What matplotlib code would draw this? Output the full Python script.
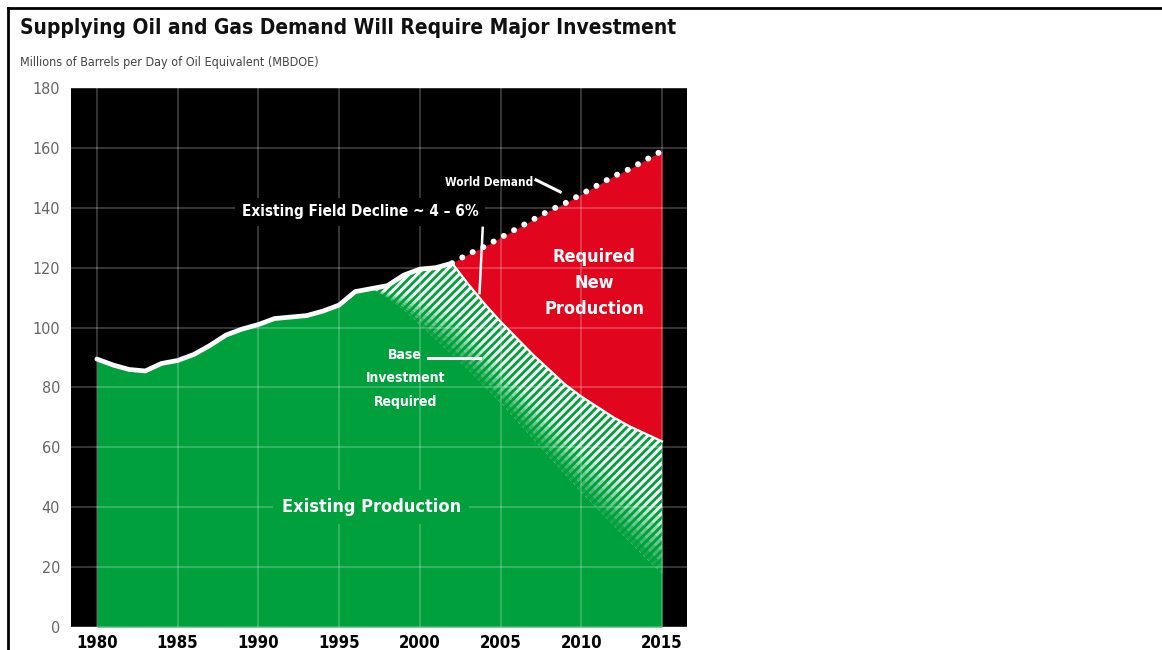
import matplotlib.pyplot as plt
from matplotlib.lines import Line2D
import numpy as np

# world production of existing fields, MBDOE
prod_years = list(range(1980, 2016))
prod_hist = [89.5, 87.5, 86, 85.5, 88, 89, 91, 94, 97.5, 99.5, 101, 103, 103.5, 104,
             105.5, 107.5, 112, 113, 114, 117.5, 119.5, 120, 121.5]
prod_decline = [114.5, 108, 102, 96.5, 91, 86, 81, 77, 73.5, 70, 67, 64.5, 62]
prod_values = prod_hist + prod_decline

# world demand outlook
demand_years = list(range(2002, 2016))
demand_values = [121.5, 124.5, 127, 130, 133, 136, 139, 141.5, 144.5, 147.5, 150.5, 153, 156, 159]

# lower edge of the base investment band
base_years = list(range(1997, 2016))
base_lower = [113, 110, 106, 101, 96, 91, 86, 80.5, 75, 69, 63, 57, 51, 45, 39.5, 34, 28.5, 23, 18]

xticks = [1980, 1985, 1990, 1995, 2000, 2005, 2010, 2015]
yticks = [0, 20, 40, 60, 80, 100, 120, 140, 160, 180]

GREEN = '#00A03C'
RED = '#E2051E'
FONT = dict(family='DejaVu Sans', fontstretch='condensed')

plt.rcParams['hatch.linewidth'] = 2.2

fig = plt.figure(figsize=(11.62, 6.5), dpi=100)
ax = fig.add_axes([71/1162, 1 - 627/650, (687 - 71)/1162, (627 - 88)/650])
ax.set_facecolor('black')
ax.set_xlim(1978.4, 2016.55)
ax.set_ylim(0, 180)

px = np.array(prod_years)
pv = np.array(prod_values)
ax.fill_between(px, 0, pv, color=GREEN, lw=0, zorder=1)

dy = np.array(demand_years)
ax.fill_between(dy, pv[px >= 2002], demand_values, color=RED, lw=0, zorder=1)

# hatched band, fading out towards the lower edge
by = np.array(base_years)
upper = pv[px >= 1997]
lower = np.array(base_lower)
ax.fill_between(by, lower, upper, facecolor=GREEN, edgecolor='white', lw=0,
                hatch='////', zorder=1.2)
n = 12
for k in range(n):
    lo = lower + (upper - lower) * k / n
    hi = lower + (upper - lower) * (k + 1) / n
    a = max(0.0, 1 - (k + 0.5) / (n * 0.5))
    if a > 0:
        ax.fill_between(by, lo, hi, color=GREEN, alpha=a, lw=0, zorder=1.3)

ax.grid(True, color='white', alpha=0.25, lw=1.2)
ax.set_axisbelow(False)

ax.plot(prod_years[:23], prod_hist, color='white', lw=3.4, solid_capstyle='round', zorder=3)
ax.plot(px[px >= 2002], pv[px >= 2002], color='white', lw=1.6, zorder=3)
ax.plot(demand_years, demand_values, color='white', lw=4.3, linestyle=(0, (0.01, 1.95)),
        dash_capstyle='round', zorder=3)

# labels and pointers
txt = dict(color='white', fontweight='bold', zorder=4, **FONT)
ax.text(2004.3, 148.6, 'World Demand', ha='center', va='center', fontsize=8.5, **txt)
ax.plot([2007.2, 2008.7], [149.3, 145.3], color='white', lw=2.2, zorder=4)
ax.text(1996.3, 138.6, 'Existing Field Decline ~ 4 \u2013 6%', ha='center', va='center',
        fontsize=11, bbox=dict(facecolor='black', edgecolor='none', pad=5), **txt)
ax.plot([2003.9, 2003.7], [133.3, 111.5], color='white', lw=1.8, zorder=4)
ax.text(2010.8, 114.9, 'Required\nNew\nProduction', ha='center', va='center',
        fontsize=13, linespacing=1.6, **txt)
ax.text(1999.1, 83.0, 'Base\nInvestment\nRequired', ha='center', va='center',
        fontsize=10, linespacing=1.85, **txt)
ax.plot([2000.5, 2003.7], [89.8, 89.8], color='white', lw=2.2, zorder=4)
ax.text(1997.0, 40.1, 'Existing Production', ha='center', va='center', fontsize=13,
        bbox=dict(facecolor=GREEN, edgecolor='none', pad=6), **txt)

ax.set_xticks(xticks)
ax.set_yticks(yticks)
ax.set_xticklabels([str(x) for x in xticks], fontweight='bold', fontsize=12, **FONT)
ax.set_yticklabels([str(y) for y in yticks], fontsize=11.5, color='#666666', **FONT)
ax.tick_params(length=0)
ax.tick_params(axis='x', pad=5)
ax.tick_params(axis='y', pad=8)
for s in ax.spines.values():
    s.set_visible(False)

fig.text(20/1162, 1 - 34/650, 'Supplying Oil and Gas Demand Will Require Major Investment',
         fontsize=15, fontweight='bold', color='#111111', va='baseline', **FONT)
fig.text(20/1162, 1 - 66/650, 'Millions of Barrels per Day of Oil Equivalent (MBDOE)',
         fontsize=9, color='#444444', va='baseline', **FONT)

# frame around the graphic
fig.add_artist(Line2D([8/1162, 1], [1 - 8/650, 1 - 8/650], transform=fig.transFigure,
                      color='black', lw=2))
fig.add_artist(Line2D([8/1162, 8/1162], [0, 1 - 8/650], transform=fig.transFigure,
                      color='black', lw=2))

fig.savefig('out.png', dpi=100, facecolor='white')
